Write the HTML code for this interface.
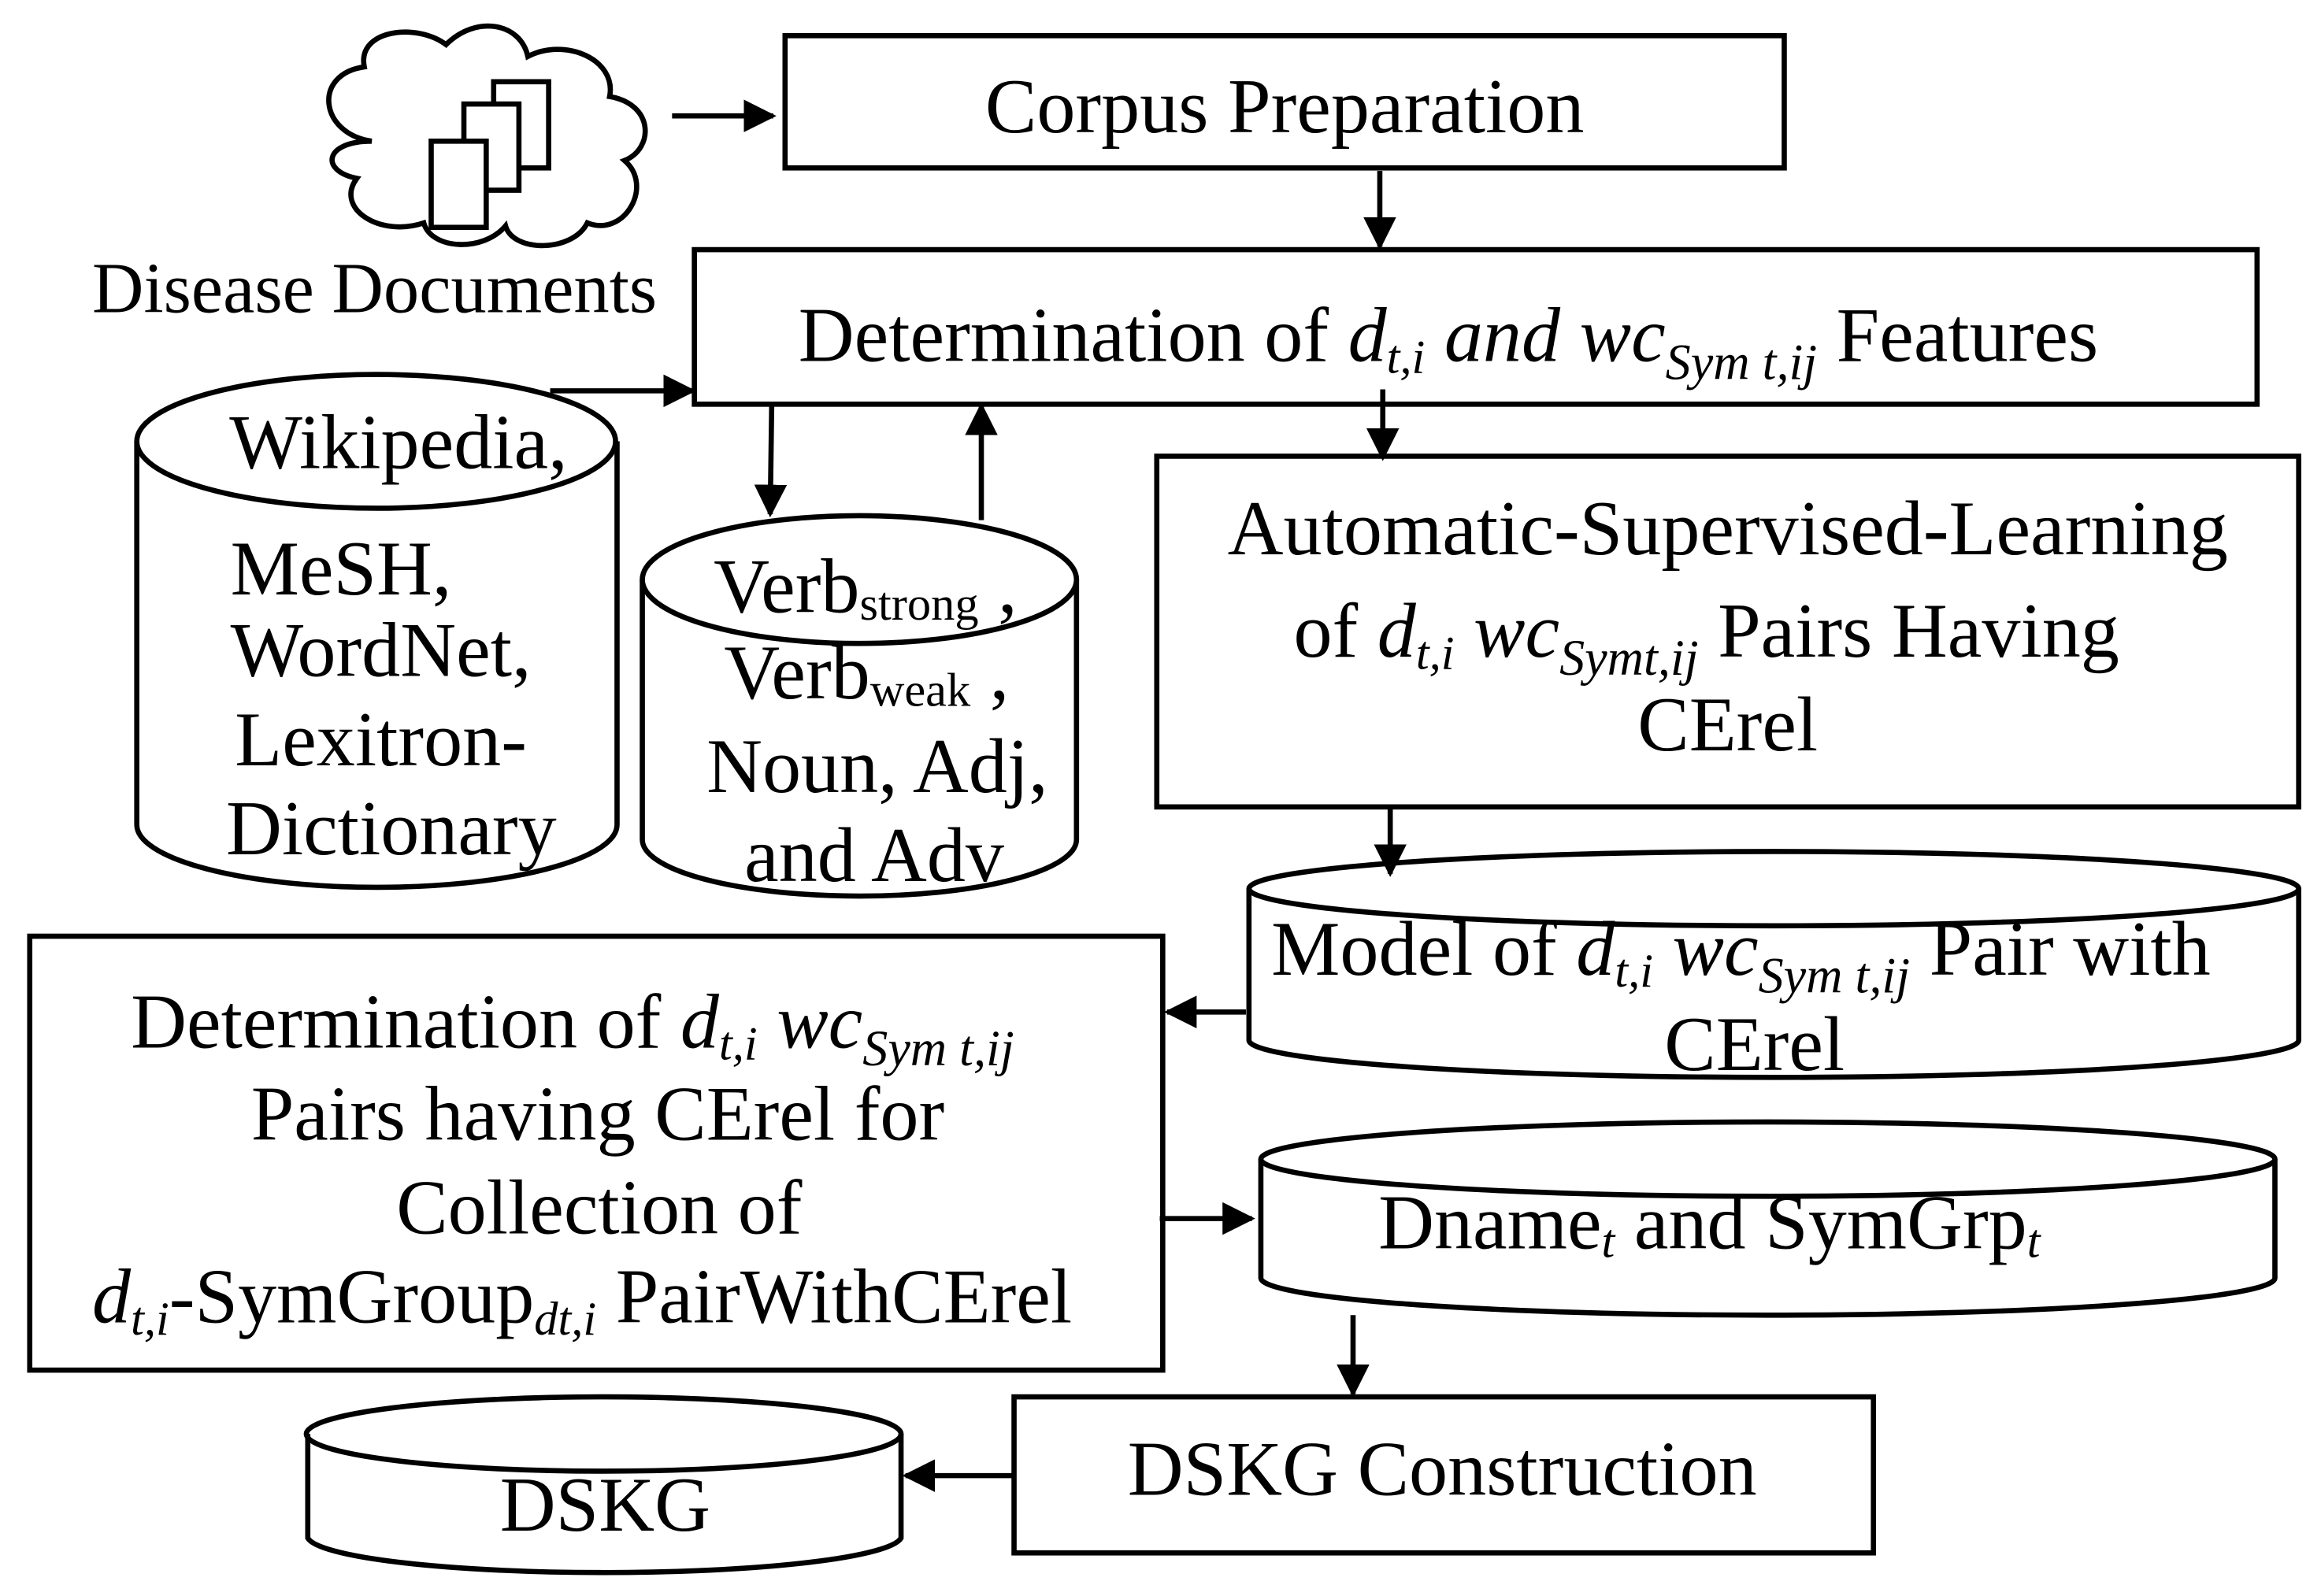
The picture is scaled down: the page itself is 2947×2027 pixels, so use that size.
<!DOCTYPE html>
<html><head><meta charset="utf-8"><style>
html,body{margin:0;padding:0;background:#fff;}
svg{display:block;}
text{font-family:"Liberation Serif",serif;fill:#000;}
</style></head><body>
<svg width="2947" height="2027" viewBox="0 0 1561 1074" preserveAspectRatio="none" xmlns="http://www.w3.org/2000/svg">
<defs>
<marker id="ahb" viewBox="0 0 10 10" markerWidth="22" markerHeight="22" refX="9" refY="5" orient="auto" markerUnits="userSpaceOnUse">
<path d="M0,0 L10,5 L0,10 z" fill="#000"/>
</marker>
</defs>
<g fill="none" stroke="#000" stroke-width="3.5">
<path d="M250,95 C215,90 210,50 245,45 C240,20 280,15 300,30 C320,10 350,15 355,38 C380,25 415,40 410,65 C440,70 440,100 420,108 C440,125 420,160 395,150 C385,170 345,170 340,152 C325,170 290,168 285,150 C255,160 225,140 240,120 C215,115 218,95 250,95 Z"/>
<rect x="332" y="55" width="37" height="58" fill="#fff"/>
<rect x="312" y="70" width="37" height="58" fill="#fff"/>
<rect x="290" y="95" width="37" height="58" fill="#fff"/>
<rect x="528" y="24" width="672" height="89"/>
<rect x="467" y="168" width="1051" height="104"/>
<rect x="778" y="307" width="768" height="236"/>
<rect x="20" y="630" width="762" height="292"/>
<rect x="682" y="940" width="578" height="105"/>
<path d="M92,297 L92,555 A161,42 0 0 0 415,555 L415,297"/>
<ellipse cx="253" cy="297" rx="161" ry="45"/>
<path d="M432,390 L432,565 A146,38 0 0 0 724,565 L724,390"/>
<ellipse cx="578" cy="390" rx="146" ry="43"/>
<path d="M840,598 L840,700 A353,25 0 0 0 1546,700 L1546,598"/>
<ellipse cx="1193" cy="598" rx="353" ry="25"/>
<path d="M848,780 L848,860 A341,25 0 0 0 1530,860 L1530,780"/>
<ellipse cx="1189" cy="780" rx="341" ry="25"/>
<path d="M207,965 L207,1035 A200,25 0 0 0 606,1035 L606,965"/>
<ellipse cx="406" cy="965" rx="200" ry="25"/>
</g>
<g stroke="#000" stroke-width="3.5" fill="none">
<line x1="452" y1="78" x2="520" y2="78" marker-end="url(#ahb)"/>
<line x1="928" y1="115" x2="928" y2="166" marker-end="url(#ahb)"/>
<line x1="370" y1="263" x2="466" y2="263" marker-end="url(#ahb)"/>
<line x1="519" y1="273" x2="518" y2="346" marker-end="url(#ahb)"/>
<line x1="660" y1="350" x2="660" y2="273" marker-end="url(#ahb)"/>
<line x1="930" y1="262" x2="930" y2="308" marker-end="url(#ahb)"/>
<line x1="935" y1="544" x2="935" y2="588" marker-end="url(#ahb)"/>
<line x1="838" y1="681" x2="785" y2="681" marker-end="url(#ahb)"/>
<line x1="780" y1="820" x2="842" y2="820" marker-end="url(#ahb)"/>
<line x1="910" y1="885" x2="910" y2="938" marker-end="url(#ahb)"/>
<line x1="681" y1="993" x2="609" y2="993" marker-end="url(#ahb)"/>
</g>
<g font-size="52">
<text x="864" y="89" text-anchor="middle">Corpus Preparation</text>
<text x="62" y="210" font-size="48">Disease Documents</text>
<text x="537" y="243">Determination of  <tspan font-style="italic">d</tspan><tspan font-style="italic" font-size="32" dy="8">t,i</tspan><tspan font-style="italic" dy="-8"> and wc</tspan><tspan font-style="italic" font-size="34" dy="12">Sym t,ij</tspan><tspan dy="-12"> Features</tspan></text>
<text x="268" y="315" text-anchor="middle">Wikipedia,</text>
<text x="155" y="400">MeSH,</text>
<text x="155" y="455">WordNet,</text>
<text x="158" y="515">Lexitron-</text>
<text x="152" y="575">Dictionary</text>
<text x="480" y="412">Verb<tspan font-size="32" dy="5">strong</tspan><tspan dy="-5"> ,</tspan></text>
<text x="487" y="470">Verb<tspan font-size="32" dy="5">weak</tspan><tspan dy="-5"> ,</tspan></text>
<text x="590" y="533" text-anchor="middle">Noun, Adj,</text>
<text x="588" y="593" text-anchor="middle">and Adv</text>
<text x="1162" y="373" text-anchor="middle">Automatic-Supervised-Learning</text>
<text x="870" y="442">of <tspan font-style="italic">d</tspan><tspan font-style="italic" font-size="32" dy="8">t,i</tspan><tspan font-style="italic" dy="-8">   wc</tspan><tspan font-style="italic" font-size="34" dy="12">Symt,ij</tspan><tspan dy="-12"> Pairs Having</tspan></text>
<text x="1162" y="505" text-anchor="middle">CErel</text>
<text x="855" y="656">Model of <tspan font-style="italic">d</tspan><tspan font-style="italic" font-size="32" dy="8">t,i</tspan><tspan font-style="italic" dy="-8"> wc</tspan><tspan font-style="italic" font-size="34" dy="12">Sym t,ij</tspan><tspan dy="-12"> Pair with</tspan></text>
<text x="1180" y="720" text-anchor="middle">CErel</text>
<text x="88" y="705">Determination of <tspan font-style="italic">d</tspan><tspan font-style="italic" font-size="32" dy="8">t,i</tspan><tspan font-style="italic" dy="-8">   wc</tspan><tspan font-style="italic" font-size="34" dy="12">Sym t,ij</tspan></text>
<text x="402" y="767" text-anchor="middle">Pairs having CErel for</text>
<text x="403" y="830" text-anchor="middle">Collection of</text>
<text x="62" y="890"><tspan font-style="italic">d</tspan><tspan font-style="italic" font-size="32" dy="8">t,i</tspan><tspan dy="-8">-SymGroup</tspan><tspan font-style="italic" font-size="32" dy="8">dt,i</tspan><tspan dy="-8"> PairWithCErel</tspan></text>
<text x="927" y="840">Dname<tspan font-style="italic" font-size="32" dy="6">t</tspan><tspan dy="-6">  and SymGrp</tspan><tspan font-style="italic" font-size="32" dy="6">t</tspan></text>
<text x="970" y="1006" text-anchor="middle">DSKG Construction</text>
<text x="407" y="1030" text-anchor="middle">DSKG</text>
</g>
</svg>
</body></html>
